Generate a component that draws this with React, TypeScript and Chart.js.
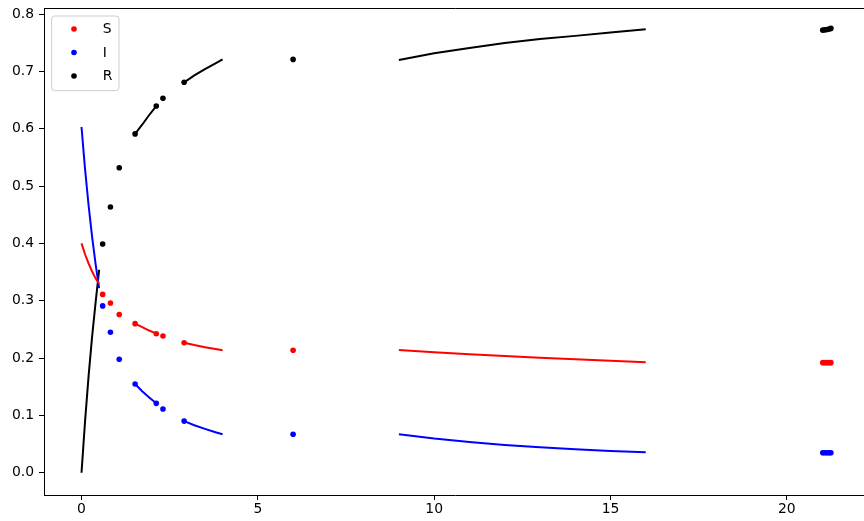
import React, { useEffect, useRef } from "react";
import { Chart, registerables } from "chart.js";
Chart.register(...registerables);

// ---- data ----
const seriesNames = ["S", "I", "R"];
const seriesColors = ["#ff0000", "#0000ff", "#000000"];

// continuous solution segments
const seg1T = [0, 0.1, 0.2, 0.3, 0.4, 0.5];
const seg1S = [0.4, 0.381, 0.365, 0.351, 0.339, 0.329];
const seg1I = [0.603, 0.53, 0.467, 0.412, 0.364, 0.322];
const seg1R = [0.0, 0.089, 0.168, 0.237, 0.297, 0.354];

const seg2T = [1.52, 1.72, 1.92, 2.12];
const seg2S = [0.26, 0.254, 0.248, 0.2425];
const seg2I = [0.1547, 0.142, 0.131, 0.121];
const seg2R = [0.591, 0.607, 0.624, 0.6396];

const seg3T = [2.91, 3.2, 3.5, 3.8, 4.0];
const seg3S = [0.2268, 0.2226, 0.219, 0.2157, 0.2135];
const seg3I = [0.09, 0.0828, 0.0765, 0.0705, 0.067];
const seg3R = [0.681, 0.693, 0.704, 0.714, 0.721];

const seg4T = [9, 10, 11, 12, 13, 14, 15, 16];
const seg4S = [0.214, 0.2103, 0.2068, 0.2036, 0.2006, 0.1978, 0.1951, 0.1926];
const seg4I = [0.067, 0.0595, 0.0534, 0.0484, 0.0443, 0.0409, 0.038, 0.0356];
const seg4R = [0.72, 0.7315, 0.741, 0.7495, 0.7565, 0.762, 0.768, 0.7734];

// observation dots
const dotT = [0.6, 0.82, 1.07, 1.52, 2.12, 2.31, 2.91, 6, 21.02, 21.08, 21.14, 21.2, 21.25];
const dotS = [0.311, 0.296, 0.276, 0.26, 0.2425, 0.2385, 0.2268, 0.2135, 0.192, 0.192, 0.192, 0.192, 0.192];
const dotI = [0.291, 0.245, 0.198, 0.1547, 0.121, 0.111, 0.09, 0.067, 0.0349, 0.0349, 0.0349, 0.0349, 0.0349];
const dotR = [0.399, 0.4635, 0.532, 0.591, 0.6396, 0.653, 0.681, 0.721, 0.772, 0.7725, 0.773, 0.774, 0.775];

const xTicks = [0, 5, 10, 15, 20];
const yTicks = [0, 0.1, 0.2, 0.3, 0.4, 0.5, 0.6, 0.7, 0.8];
const X_MIN = -1.0635;
const X_MAX = 22.26;
const Y_MIN = -0.0389;
const Y_MAX = 0.8101;

type P = { x: number; y: number | null };

function joinSegments(segs: [number[], number[]][]): P[] {
  const out: P[] = [];
  segs.forEach(([t, v], k) => {
    if (k > 0) {
      const prev = segs[k - 1][0];
      out.push({ x: (prev[prev.length - 1] + t[0]) / 2, y: null });
    }
    t.forEach((x, i) => out.push({ x, y: v[i] }));
  });
  return out;
}

const lineData = [
  joinSegments([[seg1T, seg1S], [seg2T, seg2S], [seg3T, seg3S], [seg4T, seg4S]]),
  joinSegments([[seg1T, seg1I], [seg2T, seg2I], [seg3T, seg3I], [seg4T, seg4I]]),
  joinSegments([[seg1T, seg1R], [seg2T, seg2R], [seg3T, seg3R], [seg4T, seg4R]]),
];
const dotData = [dotS, dotI, dotR].map((v) => dotT.map((x, i) => ({ x, y: v[i] })));

const FONT = "'DejaVu Sans', sans-serif";

const framePlugin = {
  id: "frame",
  afterDatasetsDraw(chart: any) {
    const { ctx, chartArea } = chart;
    ctx.save();
    ctx.strokeStyle = "#000";
    ctx.lineWidth = 1;
    ctx.beginPath();
    ctx.moveTo(chartArea.left, Math.round(chartArea.top) + 0.5);
    ctx.lineTo(chartArea.right, Math.round(chartArea.top) + 0.5);
    ctx.moveTo(chartArea.right - 0.5, chartArea.top);
    ctx.lineTo(chartArea.right - 0.5, chartArea.bottom);
    ctx.stroke();
    ctx.restore();
  },
};

const legendPlugin = {
  id: "mplLegend",
  afterDraw(chart: any) {
    const { ctx, chartArea } = chart;
    const x0 = chartArea.left + 7.7;
    const y0 = chartArea.top + 7.7;
    const w = 67.3;
    const h = 74.7;
    const r = 3;
    ctx.save();
    ctx.beginPath();
    ctx.moveTo(x0 + r, y0);
    ctx.lineTo(x0 + w - r, y0);
    ctx.quadraticCurveTo(x0 + w, y0, x0 + w, y0 + r);
    ctx.lineTo(x0 + w, y0 + h - r);
    ctx.quadraticCurveTo(x0 + w, y0 + h, x0 + w - r, y0 + h);
    ctx.lineTo(x0 + r, y0 + h);
    ctx.quadraticCurveTo(x0, y0 + h, x0, y0 + h - r);
    ctx.lineTo(x0, y0 + r);
    ctx.quadraticCurveTo(x0, y0, x0 + r, y0);
    ctx.closePath();
    ctx.fillStyle = "rgba(255,255,255,0.8)";
    ctx.fill();
    ctx.strokeStyle = "#cccccc";
    ctx.lineWidth = 1;
    ctx.stroke();
    ctx.font = `13.9px ${FONT}`;
    ctx.textBaseline = "middle";
    ctx.textAlign = "left";
    seriesNames.forEach((name, i) => {
      const cy = y0 + 13 + i * 23.5;
      ctx.beginPath();
      ctx.arc(x0 + 22.3, cy, 2.8, 0, Math.PI * 2);
      ctx.fillStyle = seriesColors[i];
      ctx.fill();
      ctx.fillStyle = "#000";
      ctx.fillText(name, x0 + 51, cy + 0.5);
    });
    ctx.restore();
  },
};

export default function App() {
  const ref = useRef<HTMLCanvasElement>(null);
  useEffect(() => {
    const canvas = ref.current!;
    const datasets: any[] = [];
    lineData.forEach((d, i) => {
      datasets.push({
        label: seriesNames[i] + " line",
        data: d,
        showLine: true,
        spanGaps: false,
        borderColor: seriesColors[i],
        backgroundColor: seriesColors[i],
        borderWidth: 2,
        pointRadius: 0,
        tension: 0,
        fill: false,
      });
    });
    dotData.forEach((d, i) => {
      datasets.push({
        label: seriesNames[i],
        data: d,
        showLine: false,
        borderColor: seriesColors[i],
        backgroundColor: seriesColors[i],
        borderWidth: 0,
        pointRadius: 2.8,
        pointHoverRadius: 2.8,
      });
    });
    const tickFont = { family: FONT, size: 13.9 };
    const zeroPad = (s: any) => {
      s.paddingTop = 0;
      s.paddingBottom = 0;
      s.paddingLeft = 0;
      s.paddingRight = 0;
    };
    const chart = new Chart(canvas, {
      type: "scatter",
      data: { datasets },
      options: {
        animation: false,
        responsive: false,
        devicePixelRatio: 1,
        events: [],
        layout: { padding: { left: 0, top: 8.3, right: 5.5, bottom: 0 } },
        plugins: { legend: { display: false }, tooltip: { enabled: false }, title: { display: false } },
        scales: {
          x: {
            type: "linear",
            min: X_MIN,
            max: X_MAX,
            afterFit: (s: any) => {
              s.height = 26;
              zeroPad(s);
            },
            afterBuildTicks: (s: any) => {
              s.ticks = xTicks.map((v) => ({ value: v }));
            },
            ticks: {
              color: "#000",
              font: tickFont,
              padding: 1,
              maxRotation: 0,
              autoSkip: false,
              callback: (v: any) => String(v),
            },
            grid: { drawOnChartArea: false, drawTicks: true, tickLength: 5, color: "#000", lineWidth: 1 },
            border: { display: true, color: "#000", width: 1 },
          },
          y: {
            type: "linear",
            min: Y_MIN,
            max: Y_MAX,
            afterFit: (s: any) => {
              s.width = 44;
              zeroPad(s);
            },
            afterBuildTicks: (s: any) => {
              s.ticks = yTicks.map((v) => ({ value: v }));
            },
            ticks: {
              color: "#000",
              font: tickFont,
              padding: 5,
              autoSkip: false,
              callback: (v: any) => Number(v).toFixed(1),
            },
            grid: { drawOnChartArea: false, drawTicks: true, tickLength: 5, color: "#000", lineWidth: 1 },
            border: { display: true, color: "#000", width: 1 },
          },
        },
      } as any,
      plugins: [framePlugin, legendPlugin],
    });
    return () => chart.destroy();
  }, []);
  return (
    <div
      style={{
        position: "fixed",
        left: 0,
        top: 0,
        width: 864,
        height: 521,
        overflow: "hidden",
        background: "#fff",
      }}
    >
      <canvas ref={ref} width={872} height={521} style={{ display: "block", width: 872, height: 521 }} />
    </div>
  );
}
